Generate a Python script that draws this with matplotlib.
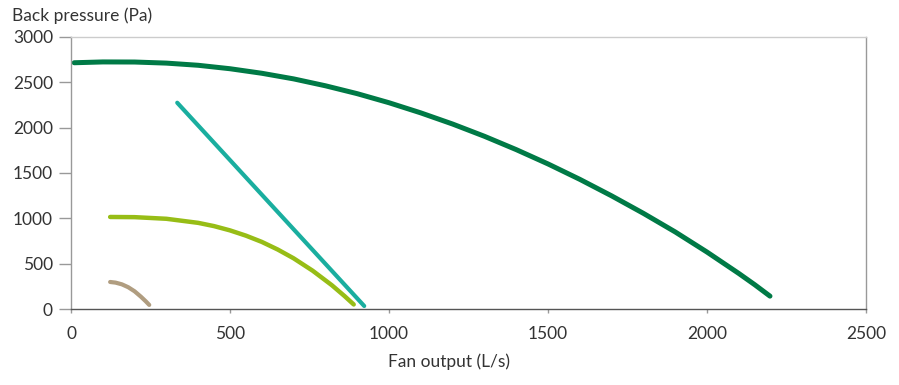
import matplotlib.pyplot as plt

# Fan curves (L/s, Pa)
large_x = [10, 100, 200, 300, 400, 500, 600, 700, 800, 900, 1000, 1100,
           1200, 1300, 1400, 1500, 1600, 1700, 1800, 1900, 2000, 2100, 2150, 2198]
large_y = [2716, 2725, 2724, 2712, 2688, 2650, 2600, 2538, 2462, 2375, 2275, 2163,
           2040, 1905, 1758, 1600, 1430, 1248, 1055, 850, 628, 392, 268, 142]

linear_x = [334, 922]
linear_y = [2275, 33]

medium_x = [123, 200, 300, 400, 450, 500, 550, 600, 650, 700, 760, 820, 860, 889]
medium_y = [1015, 1013, 995, 950, 914, 867, 809, 740, 656, 559, 422, 263, 143, 50]

small_x = [123, 140, 160, 180, 200, 220, 235, 246]
small_y = [298, 291, 272, 240, 195, 135, 85, 45]

x_ticks = [0, 500, 1000, 1500, 2000, 2500]
y_ticks = [0, 500, 1000, 1500, 2000, 2500, 3000]

plt.rcParams["font.family"] = ["Lato", "DejaVu Sans"]

fig = plt.figure(figsize=(8.99, 3.85), dpi=100)
ax = fig.add_axes([0.079, 0.1974, 0.8843, 0.7065])

ax.plot(large_x, large_y, color="#007a46", lw=3.6,
        solid_capstyle="round", solid_joinstyle="round")
ax.plot(linear_x, linear_y, color="#1aae9f", lw=3.0,
        solid_capstyle="round", solid_joinstyle="round")
ax.plot(medium_x, medium_y, color="#97bd16", lw=3.2,
        solid_capstyle="round", solid_joinstyle="round")
ax.plot(small_x, small_y, color="#b09d80", lw=3.0,
        solid_capstyle="round", solid_joinstyle="round")

ax.set_xlim(0, 2500)
ax.set_ylim(0, 3000)
ax.set_xticks(x_ticks)
ax.set_yticks(y_ticks)

ax.spines["left"].set_color("#999999")
ax.spines["right"].set_color("#999999")
ax.spines["top"].set_color("#cccccc")
ax.spines["bottom"].set_color("#555555")
for s in ax.spines.values():
    s.set_linewidth(1.0)

ax.tick_params(axis="y", length=9, width=1, color="#999999", pad=4,
               labelsize=12.5, labelcolor="#333333")
ax.tick_params(axis="x", length=3, width=1, color="#999999", pad=9,
               labelsize=12.5, labelcolor="#333333")

fig.text(12 / 899, 1 - 16 / 385, "Back pressure (Pa)", ha="left", va="center",
         fontsize=12.5, color="#333333")
fig.text(449 / 899, 1 - 362 / 385, "Fan output (L/s)", ha="center", va="center",
         fontsize=12.5, color="#333333")

fig.savefig("out.png", dpi=100)
